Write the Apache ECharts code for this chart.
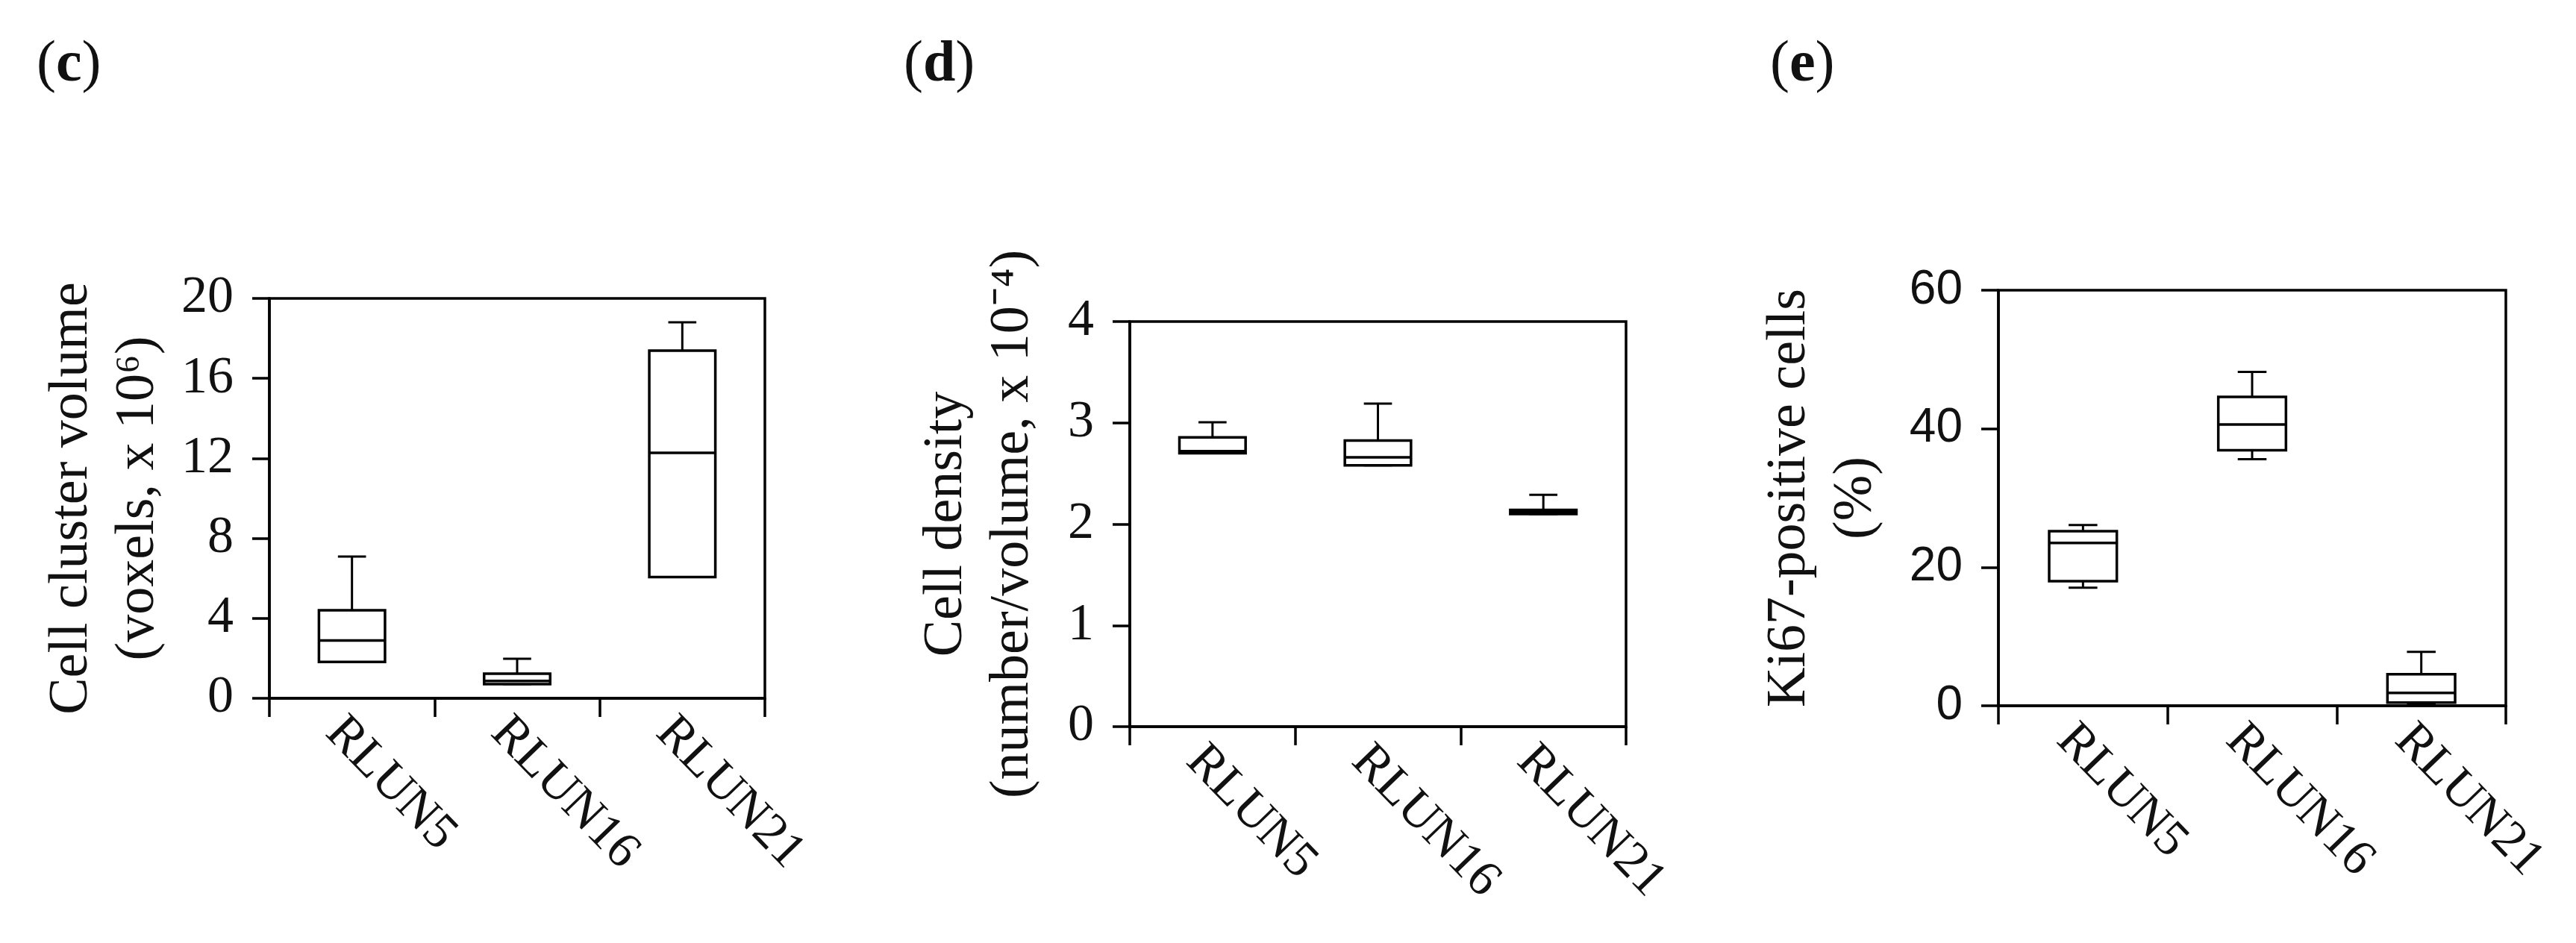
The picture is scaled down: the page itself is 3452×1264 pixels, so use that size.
<!DOCTYPE html>
<html><head><meta charset="utf-8">
<script src="https://cdn.jsdelivr.net/npm/echarts@6/dist/echarts.min.js"></script>
<style>html,body{margin:0;padding:0;background:#fff}#c{width:3452px;height:1264px}</style>
</head><body><div id="c"></div>
<script>
// ---------- data ----------
const categories = ['RLUN5', 'RLUN16', 'RLUN21'];
// each box: [min, Q1, median, Q3, max]
const volumeBoxes  = [[1.82, 1.82, 2.89, 4.40, 7.09], [0.71, 0.71, 0.87, 1.23, 1.98], [6.06, 6.06, 12.28, 17.39, 18.81]];
const densityBoxes = [[2.70, 2.70, 2.72, 2.857, 3.005], [2.58, 2.58, 2.66, 2.825, 3.19], [2.10, 2.10, 2.12, 2.14, 2.29]];
const ki67Boxes    = [[17.06, 18.0, 23.5, 25.2, 26.1], [35.6, 36.9, 40.6, 44.6, 48.2], [0.3, 0.47, 1.87, 4.56, 7.77]];
const volumeTicks  = [0, 4, 8, 12, 16, 20];
const densityTicks = [0, 1, 2, 3, 4];
const ki67Ticks    = [0, 20, 40, 60];
const panelLetters = ['c', 'd', 'e'];
const yTitles = [
  'Cell cluster volume\n(voxels, x 10\u2076)',
  'Cell density\n(number/volume, x 10\u207B\u2074)',
  'Ki67-positive cells\n(%)'
];

// ---------- helpers ----------
const SERIF = '"Liberation Serif", "Times New Roman", serif';
const SANS = '"Liberation Sans", Arial, sans-serif';
const INK = '#111';

function toRows(boxes) { return boxes.map((b, i) => [i].concat(b)); }

function boxRender(params, api) {
  const x = api.value(0);
  const mn = api.value(1), q1 = api.value(2), md = api.value(3), q3 = api.value(4), mx = api.value(5);
  const band = api.size([1, 0])[0];
  const bw = band * 0.40, cw = band * 0.17;
  const pMax = api.coord([x, mx]), pQ3 = api.coord([x, q3]), pMd = api.coord([x, md]);
  const pQ1 = api.coord([x, q1]), pMin = api.coord([x, mn]);
  const cx = pMd[0];
  const ls = { stroke: '#000', lineWidth: 3.5 };
  const wl = { stroke: '#000', lineWidth: 3 };
  const children = [
    { type: 'line', shape: { x1: cx, y1: pQ3[1], x2: cx, y2: pMax[1] }, style: wl },
    { type: 'line', shape: { x1: cx - cw / 2, y1: pMax[1], x2: cx + cw / 2, y2: pMax[1] }, style: wl },
    { type: 'line', shape: { x1: cx, y1: pQ1[1], x2: cx, y2: pMin[1] }, style: wl },
    { type: 'line', shape: { x1: cx - cw / 2, y1: pMin[1], x2: cx + cw / 2, y2: pMin[1] }, style: wl },
    { type: 'rect', shape: { x: cx - bw / 2, y: pQ3[1], width: bw, height: pQ1[1] - pQ3[1] }, style: { fill: '#fff', stroke: '#000', lineWidth: 3.5 } },
    { type: 'line', shape: { x1: cx - bw / 2, y1: pMd[1], x2: cx + bw / 2, y2: pMd[1] }, style: ls }
  ];
  return { type: 'group', children: children };
}

const grids = [
  { left: 361, top: 400, width: 664, height: 536 },
  { left: 1514, top: 431, width: 665, height: 543 },
  { left: 2678, top: 389, width: 680, height: 557 }
];
const tickSets = [volumeTicks, densityTicks, ki67Ticks];
const boxSets = [volumeBoxes, densityBoxes, ki67Boxes];
const nameGaps = [131, 112, 146];
const tickFonts = [SERIF, SERIF, SANS];
const tickSizes = [70, 70, 64];

const option = {
  backgroundColor: '#fff',
  animation: false,
  title: panelLetters.map((l, i) => ({
    text: '(' + '{b|' + l + '})',
    left: [44, 1206, 2367][i],
    top: 44,
    textStyle: {
      fontFamily: SERIF, fontSize: 78, fontWeight: 'normal', color: INK,
      rich: { b: { fontFamily: SERIF, fontSize: 78, fontWeight: 'bold', color: INK } }
    }
  })),
  grid: grids.map(g => Object.assign({
    show: true, borderColor: '#000', borderWidth: 3.5, backgroundColor: 'transparent',
    containLabel: false, outerBoundsMode: 'none'
  }, g)),
  xAxis: grids.map((g, i) => ({
    type: 'category', gridIndex: i, data: categories, boundaryGap: true,
    axisLine: { show: true, lineStyle: { color: '#000', width: 3.5 } },
    axisTick: { show: true, inside: false, length: 25, alignWithLabel: false, lineStyle: { color: '#000', width: 3.5 } },
    axisLabel: {
      show: true, rotate: -46, margin: 12, verticalAlign: 'top',
      fontFamily: SERIF, fontSize: 68, color: INK, interval: 0
    },
    splitLine: { show: false }
  })),
  yAxis: grids.map((g, i) => {
    const t = tickSets[i];
    return {
      type: 'value', gridIndex: i,
      min: t[0], max: t[t.length - 1], interval: t[1] - t[0],
      name: yTitles[i], nameLocation: 'middle', nameRotate: 90, nameGap: nameGaps[i],
      nameTextStyle: { fontFamily: SERIF, fontSize: 74, lineHeight: 89, color: INK },
      axisLine: { show: true, lineStyle: { color: '#000', width: 3.5 } },
      axisTick: { show: true, inside: false, length: 23, lineStyle: { color: '#000', width: 3.5 } },
      axisLabel: { show: true, margin: 48, fontFamily: tickFonts[i], fontSize: tickSizes[i], color: INK },
      splitLine: { show: false }
    };
  }),
  series: boxSets.map((b, i) => ({
    type: 'custom', xAxisIndex: i, yAxisIndex: i,
    data: toRows(b),
    encode: { x: 0, y: [1, 2, 3, 4, 5] },
    renderItem: boxRender,
    clip: false,
    z: 5
  }))
};

const chart = echarts.init(document.getElementById('c'), null, { renderer: 'canvas' });
chart.setOption(option);
</script>
</body></html>
